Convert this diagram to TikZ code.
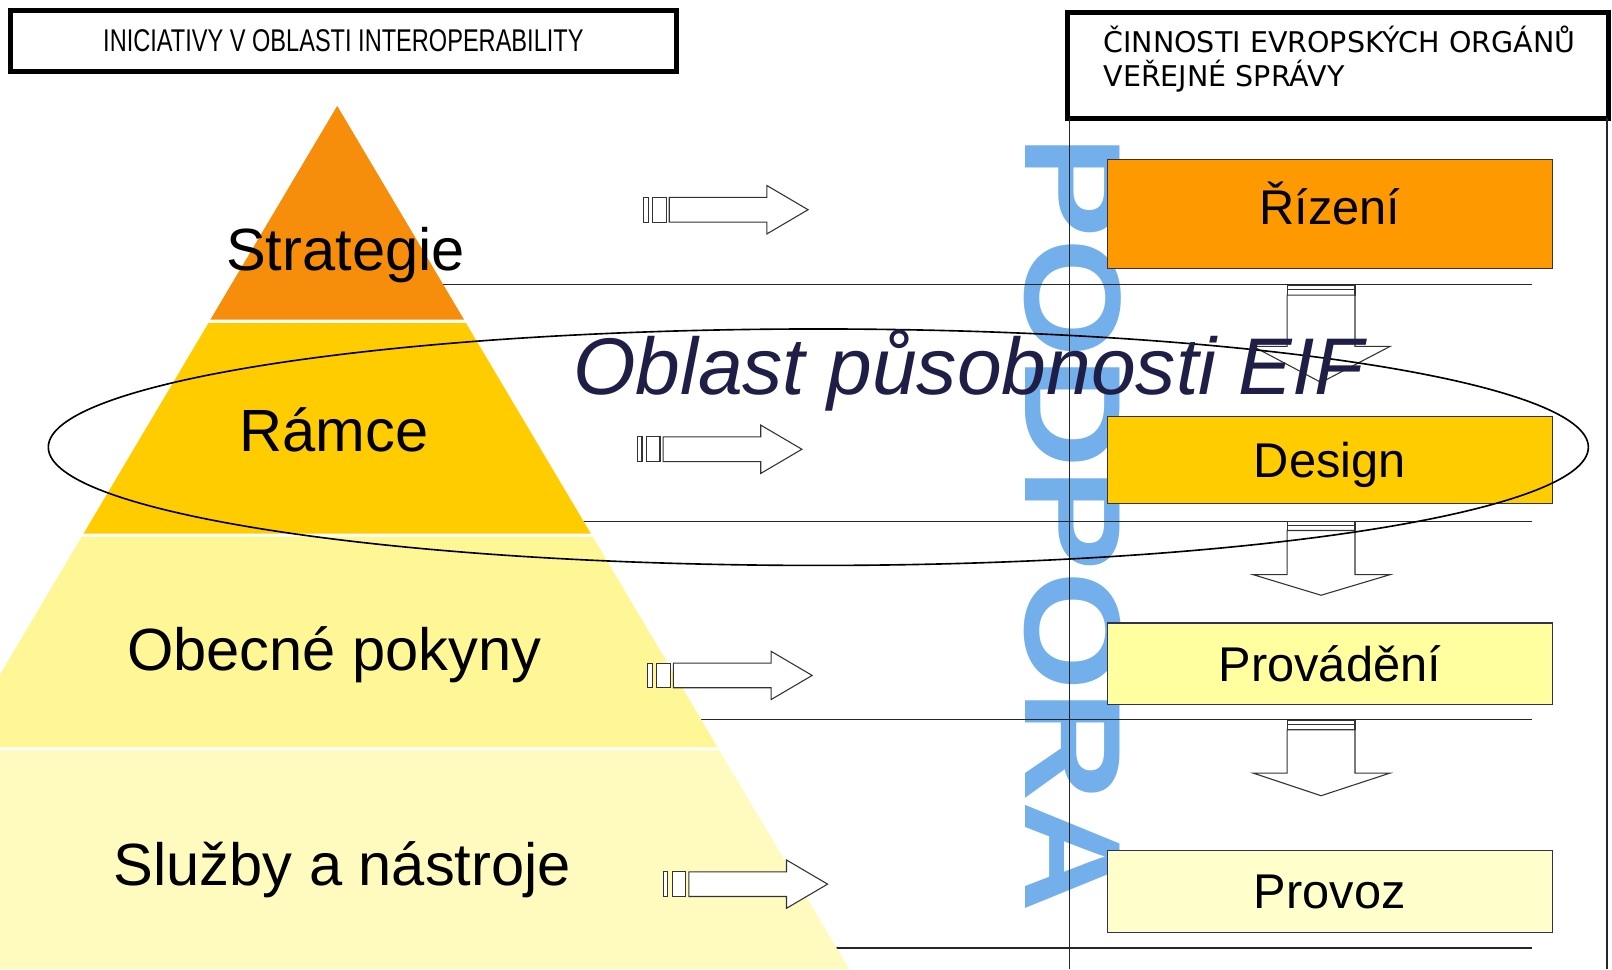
\documentclass[tikz,border=0pt]{standalone}
\usepackage{fontspec}
\setmainfont{Liberation Sans}
\newfontfamily\headfont{DejaVu Sans}
\usetikzlibrary{positioning}
\definecolor{tierA}{RGB}{246,142,12}
\definecolor{tierB}{RGB}{255,204,0}
\definecolor{tierC}{RGB}{255,247,150}
\definecolor{tierD}{RGB}{255,251,190}
\definecolor{boxA}{RGB}{255,153,0}
\definecolor{boxB}{RGB}{255,204,0}
\definecolor{boxC}{RGB}{255,255,160}
\definecolor{boxD}{RGB}{255,255,204}
\definecolor{boxline}{RGB}{50,50,80}
\definecolor{watermark}{RGB}{115,175,235}
\definecolor{eiftext}{RGB}{30,30,70}
\tikzset{
  actbox/.style={draw=boxline, line width=0.7pt, minimum width=8.66cm, inner sep=0pt,
    text height=19.3pt, text depth=0pt, font=\fontsize{27}{30}\selectfont},
  tierlabel/.style={inner sep=0pt, text height=23.6pt, text depth=0pt, font=\fontsize{33}{38}\selectfont},
  blockarrow/.style={draw=black!80, fill=white, line width=0.6pt},
  sepline/.style={draw=black!85, line width=0.7pt},
}
\begin{document}
\begin{tikzpicture}[x=0.02cm,y=-0.02cm]
    \useasboundingbox (0,0) rectangle (1568,942.6);
    \clip (0,0) rectangle (1568,942.6);
    \fill[white] (0,0) rectangle (1568,942.6);
    % watermark
    \node[rotate=-90, text=watermark, inner sep=0pt, font=\bfseries\fontsize{76}{80}\selectfont] (podpora) at (1043,510) {\scalebox{1.12}[1]{PODPORA}};
    % separator lines
    \draw[sepline] (400,277) -- (1490,277);
    \draw[sepline] (520,507) -- (1490,507);
    \draw[sepline] (640,700) -- (1490,700);
    \draw[sepline] (760,922) -- (1490,922);
    % pyramid
    \fill[tierA] (328,103) -- (451.4,311) -- (204.6,311) -- cycle;
    \fill[tierB] (202.9,314) -- (453.1,314) -- (574.7,519) -- (81.3,519) -- cycle;
    \fill[tierC] (79.5,522) -- (576.5,522) -- (698,727) -- (-42,727) -- cycle;
    \fill[tierD] (-43.8,730) -- (699.8,730) -- (825.9,942.6) -- (-169.9,942.6) -- cycle;
    % headers
    \node[draw, line width=2.8pt, minimum width=12.96cm, minimum height=1.2cm, inner sep=0pt] (leftHead) at (334,40)
        {\fontsize{17.4}{20}\selectfont\scalebox{0.75}[1]{INICIATIVY V OBLASTI INTEROPERABILITY}};
    \node[draw, line width=2.8pt, minimum width=10.54cm, minimum height=2.06cm, inner sep=0pt] (rightHead) at (1301.5,63.5) {};
    \node[anchor=base west, inner sep=0pt, font=\headfont\fontsize{15.8}{18}\selectfont] (rightHeadA) at (1073,51) {ČINNOSTI EVROPSKÝCH ORGÁNŮ};
    \node[anchor=base west, inner sep=0pt, font=\headfont\fontsize{15.8}{18}\selectfont] (rightHeadB) at (1073,84) {VEŘEJNÉ SPRÁVY};
    % column lines
    \draw[sepline] (1040,115) -- (1040,942.6);
    \draw[sepline] (1563,115) -- (1563,942.6);
    % activities
    \node[actbox, fill=boxA, minimum height=2.12cm, text height=11.3pt] (rizeni) at (1293.5,208) {Řízení};
    \node[actbox, fill=boxB, minimum height=1.7cm] (design) at (1293.5,447.5) {Design};
    \node[actbox, fill=boxC, minimum height=1.58cm] (provadeni) at (1293.5,645.5) {Provádění};
    \node[actbox, fill=boxD, minimum height=1.6cm] (provoz) at (1293.5,867) {Provoz};
    % arrows to the right
    \foreach \ax/\ay in {626/204, 620/437, 630/657, 645/860} {
        \draw[blockarrow] (\ax,\ay-12) rectangle ++(4.5,24);
        \draw[blockarrow] (\ax+9,\ay-12) rectangle ++(13,24);
        \draw[blockarrow] (\ax+25,\ay-12) -- ++(95,0) -- ++(0,-11.5) -- (\ax+160,\ay)
            -- (\ax+120,\ay+23.5) -- ++(0,-11.5) -- (\ax+25,\ay+12) -- cycle;
    }
    % arrows down
    \foreach \ya/\yb/\yc in {278/337/372, 507/559/579, 701/752/774} {
        \draw[blockarrow] (1252,\ya) rectangle (1318,\ya+4);
        \draw[blockarrow] (1252,\ya+4) rectangle (1318,\ya+9);
        \draw[blockarrow] (1252,\ya+9) -- (1252,\yb) -- (1219,\yb) -- (1285,\yc)
            -- (1352,\yb) -- (1318,\yb) -- (1318,\ya+9) -- cycle;
    }
    % scope of EIF
    \draw[line width=0.9pt] (796,435) ellipse [x radius=749, y radius=115];
    \node[anchor=base west, inner sep=0pt, text=eiftext, font=\itshape\fontsize{44.5}{50}\selectfont] (eif) at (557,384) {Oblast působnosti EIF};
    % tier labels
    \node[tierlabel] (strategie) at (336,242) {Strategie};
    \node[tierlabel] (ramce) at (325,418) {Rámce};
    \node[tierlabel] (pokyny) at (325,631) {Obecné pokyny};
    \node[tierlabel] (sluzby) at (333,841) {Služby a nástroje};
\end{tikzpicture}
\end{document}
